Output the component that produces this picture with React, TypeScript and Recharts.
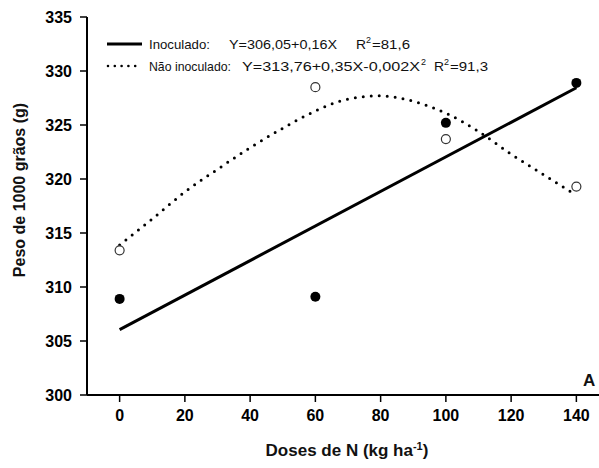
import React from 'react';
import { ComposedChart, Line, Scatter, XAxis, YAxis, Label } from 'recharts';

const doses = [0, 60, 100, 140];
const inoculado = [308.9, 309.1, 325.2, 328.9];
const naoInoculado = [313.4, 328.5, 323.7, 319.3];

const fitLinearX = [0, 140];
const fitLinearY = [306.05, 328.45];

const fitQuadX = [0, 10, 20, 30, 40, 50, 60, 70, 80, 90, 100, 110, 120, 130, 140];
const fitQuadY = [313.9, 316.3, 318.8, 320.9, 322.9, 324.7, 326.3, 327.4, 327.7, 327.2, 326.1, 324.4, 322.3, 320.4, 318.5];

const xTicks = [0, 20, 40, 60, 80, 100, 120, 140];
const yTicks = [300, 305, 310, 315, 320, 325, 330, 335];

const pts = (xs: number[], ys: number[]) => xs.map((x, i) => ({ x, y: ys[i] }));

const inocData = pts(doses, inoculado);
const naoData = pts(doses, naoInoculado);
const linData = pts(fitLinearX, fitLinearY);
const quadData = pts(fitQuadX, fitQuadY);

const FONT = '"Liberation Sans", Arial, sans-serif';
const tickStyle = { fill: '#000', fontSize: 16, fontWeight: 700, fontFamily: FONT };

const FilledDot = (props: any) => <circle cx={props.cx} cy={props.cy} r={5} fill="#000" />;
const OpenDot = (props: any) => (
  <circle cx={props.cx} cy={props.cy} r={4.5} fill="#fff" stroke="#333" strokeWidth={1.2} />
);

const lt = { fontSize: 13.5, fontFamily: FONT, fill: '#111', lengthAdjust: 'spacingAndGlyphs' as const };
const sup = { fontSize: 9, fontFamily: FONT, fill: '#111' };

export default function App() {
  return (
    <div style={{ position: 'absolute', left: 0, top: 0, width: 599, height: 468, overflow: 'hidden', background: '#fff' }}>
      <ComposedChart width={640} height={468} margin={{ top: 17, right: 31, left: 0, bottom: 0 }}>
        <XAxis
          xAxisId="top"
          orientation="top"
          type="number"
          dataKey="x"
          domain={[-10, 150]}
          height={0}
          tick={false}
          tickLine={false}
          axisLine={{ stroke: '#000', strokeWidth: 2 }}
        />
        <XAxis
          type="number"
          dataKey="x"
          domain={[-10, 150]}
          ticks={xTicks}
          height={73}
          tick={tickStyle}
          tickSize={7}
          tickMargin={8}
          tickLine={{ stroke: '#000', strokeWidth: 1.5 }}
          axisLine={{ stroke: '#000', strokeWidth: 2 }}
        >
          <Label
            content={() => (
              <text x={347} y={456} textAnchor="middle" fontFamily={FONT} fontSize={17} fontWeight={700} fill="#111">
                Doses de N (kg ha
                <tspan dy={-6} fontSize={11}>-1</tspan>
                <tspan dy={6}>)</tspan>
              </text>
            )}
          />
        </XAxis>
        <YAxis
          type="number"
          domain={[300, 335]}
          ticks={yTicks}
          width={87}
          tick={tickStyle}
          tickSize={7}
          tickMargin={8}
          tickLine={{ stroke: '#000', strokeWidth: 1.5 }}
          axisLine={{ stroke: '#000', strokeWidth: 2 }}
        >
          <Label
            content={() => (
              <text
                x={25}
                y={190}
                transform="rotate(-90 25 190)"
                textAnchor="middle"
                fontFamily={FONT}
                fontSize={16}
                fontWeight={700}
                fill="#111"
              >
                Peso de 1000 grãos (g)
              </text>
            )}
          />
        </YAxis>
        <Line
          data={linData}
          dataKey="y"
          type="linear"
          stroke="#000"
          strokeWidth={3}
          dot={false}
          activeDot={false}
          isAnimationActive={false}
        />
        <Line
          data={quadData}
          dataKey="y"
          type="monotone"
          stroke="#000"
          strokeWidth={3}
          strokeDasharray="0 8"
          strokeLinecap="round"
          dot={false}
          activeDot={false}
          isAnimationActive={false}
        />
        <Scatter data={naoData} dataKey="y" shape={<OpenDot />} isAnimationActive={false} />
        <Scatter data={inocData} dataKey="y" shape={<FilledDot />} isAnimationActive={false} />
      </ComposedChart>
      <svg width={599} height={468} style={{ position: 'absolute', left: 0, top: 0, pointerEvents: 'none' }}>
        <line x1={107} y1={44} x2={142} y2={44} stroke="#000" strokeWidth={3} />
        <line x1={108} y1={66} x2={142} y2={66} stroke="#000" strokeWidth={2.6} strokeDasharray="0 6.8" strokeLinecap="round" />

        <text x={149} y={49} textLength={61} {...lt}>Inoculado:</text>
        <text x={229} y={49} textLength={108} {...lt}>Y=306,05+0,16X</text>
        <text x={356} y={49} textLength={10} {...lt}>R</text>
        <text x={366} y={43} {...sup}>2</text>
        <text x={372} y={49} textLength={38} {...lt}>=81,6</text>

        <text x={149} y={71} textLength={82} {...lt}>Não inoculado:</text>
        <text x={242} y={71} textLength={178} {...lt}>Y=313,76+0,35X-0,002X</text>
        <text x={421} y={65} {...sup}>2</text>
        <text x={434} y={71} textLength={10} {...lt}>R</text>
        <text x={444} y={65} {...sup}>2</text>
        <text x={450} y={71} textLength={38} {...lt}>=91,3</text>

        <text x={583} y={386} fontFamily={FONT} fontSize={17} fontWeight={700} fill="#111">A</text>
      </svg>
    </div>
  );
}
